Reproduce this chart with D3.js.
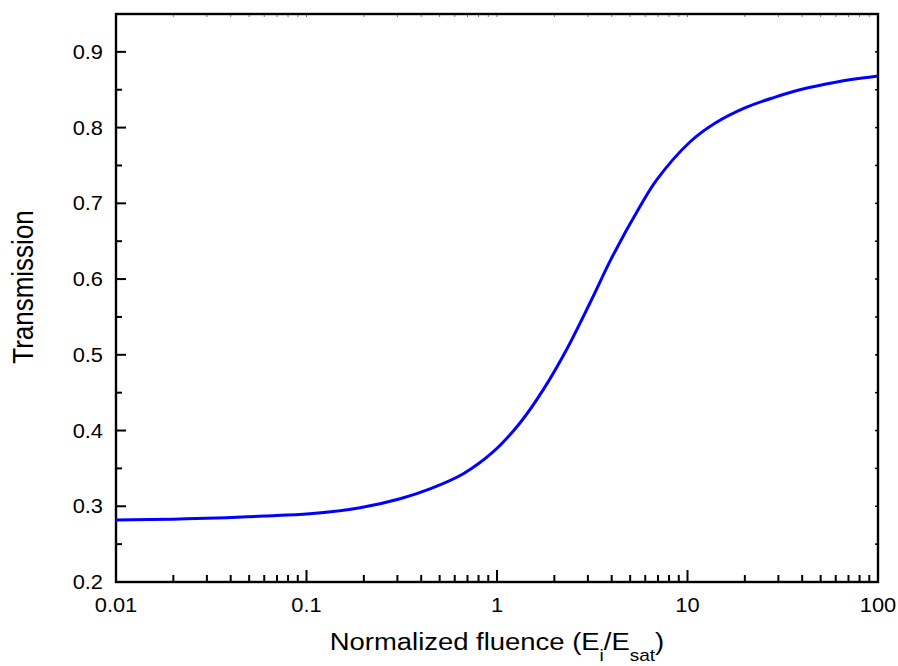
<!DOCTYPE html>
<html>
<head>
<meta charset="utf-8">
<script src="https://cdn.jsdelivr.net/npm/d3@7"></script>
<style>
  html, body { margin: 0; padding: 0; background: #fff; }
  svg { display: block; font-family: Arial, "Liberation Sans", Helvetica, sans-serif; }
</style>
</head>
<body>
<svg id="chart" width="898" height="666"></svg>
<script>
// Normalized fluence (E_i / E_sat) and the corresponding transmission
const fluence = [0.01, 0.02, 0.038, 0.06, 0.104, 0.191, 0.31, 0.445, 0.666, 0.957, 1.32, 1.75, 2.32, 3.14, 4.0, 5.64, 6.89, 10.3, 14, 20, 28.6, 38.9, 60, 100];
const transmission = [0.282, 0.283, 0.285, 0.287, 0.290, 0.298, 0.310, 0.323, 0.343, 0.372, 0.410, 0.454, 0.507, 0.573, 0.628, 0.696, 0.731, 0.781, 0.806, 0.826, 0.840, 0.850, 0.860, 0.868];

const xTickValues = [0.01, 0.1, 1, 10, 100];
const xTickLabels = ["0.01", "0.1", "1", "10", "100"];
const yTickValues = [0.2, 0.3, 0.4, 0.5, 0.6, 0.7, 0.8, 0.9];
const yTickLabels = ["0.2", "0.3", "0.4", "0.5", "0.6", "0.7", "0.8", "0.9"];

const svg = d3.select("#chart");
const L = 116, R = 878, T = 14, B = 582;
const stretch = 1.12;   // text is drawn slightly wide

const x = d3.scaleLog().domain([0.01, 100]).range([L, R]);
const y = d3.scaleLinear().domain([0.2, 0.95]).range([B, T]);

// minor ticks: 2..9 in each decade, and every 0.05 on the y axis
const xMinor = [];
for (let e = -2; e < 2; e++) for (let m = 2; m <= 9; m++) xMinor.push(m * Math.pow(10, e));
const yMinor = d3.range(0.25, 0.95, 0.1).map(v => +v.toFixed(2));

const axisG = svg.append("g").attr("stroke", "#000").attr("fill", "none");

// bottom axis ticks (inward)
axisG.selectAll(".xmaj").data(xTickValues).join("line")
  .attr("x1", d => x(d)).attr("x2", d => x(d))
  .attr("y1", B).attr("y2", B - 12).attr("stroke-width", 2);
axisG.selectAll(".xmin").data(xMinor).join("line")
  .attr("x1", d => x(d)).attr("x2", d => x(d))
  .attr("y1", B).attr("y2", B - 7).attr("stroke-width", 2);

// top axis small ticks
axisG.selectAll(".xtop").data(xMinor.concat(xTickValues)).join("line")
  .attr("x1", d => x(d)).attr("x2", d => x(d))
  .attr("y1", T).attr("y2", T + 3).attr("stroke-width", 1).attr("stroke", "#777");

// left axis ticks (inward)
axisG.selectAll(".ymaj").data(yTickValues).join("line")
  .attr("x1", L).attr("x2", L + 10)
  .attr("y1", d => y(d)).attr("y2", d => y(d)).attr("stroke-width", 2);
axisG.selectAll(".ymin").data(yMinor).join("line")
  .attr("x1", L).attr("x2", L + 6)
  .attr("y1", d => y(d)).attr("y2", d => y(d)).attr("stroke-width", 2);

// right axis small ticks
axisG.selectAll(".yright").data(yTickValues.concat(yMinor)).join("line")
  .attr("x1", R).attr("x2", R - 3)
  .attr("y1", d => y(d)).attr("y2", d => y(d)).attr("stroke-width", 1.5);

// frame
axisG.append("rect")
  .attr("x", L).attr("y", T).attr("width", R - L).attr("height", B - T)
  .attr("stroke-width", 2.4);

// tick labels
svg.append("g").selectAll("text").data(xTickValues).join("text")
  .attr("transform", d => `translate(${x(d)},611.5) scale(${stretch},1)`)
  .attr("text-anchor", "middle").attr("font-size", 19.5).attr("fill", "#000")
  .text((d, i) => xTickLabels[i]);

svg.append("g").selectAll("text").data(yTickValues).join("text")
  .attr("transform", d => `translate(103,${y(d) + 7}) scale(${stretch},1)`)
  .attr("text-anchor", "end").attr("font-size", 19.5).attr("fill", "#000")
  .text((d, i) => yTickLabels[i]);

// curve
const line = d3.line()
  .x((d, i) => x(fluence[i]))
  .y(d => y(d))
  .curve(d3.curveCatmullRom.alpha(0.5));

svg.append("path")
  .datum(transmission)
  .attr("d", line)
  .attr("fill", "none")
  .attr("stroke", "#0000ff")
  .attr("stroke-width", 3)
  .attr("stroke-linejoin", "round");

// axis titles
const xt = svg.append("text")
  .attr("transform", `translate(${(L + R) / 2},650) scale(${stretch},1)`)
  .attr("text-anchor", "middle").attr("font-size", 24.5).attr("fill", "#000");
xt.append("tspan").text("Normalized fluence (E");
xt.append("tspan").attr("font-size", 17).attr("dy", 11).text("i");
xt.append("tspan").attr("dy", -11).text("/E");
xt.append("tspan").attr("font-size", 17).attr("dy", 11).text("sat");
xt.append("tspan").attr("dy", -11).text(")");

svg.append("text")
  .attr("transform", `translate(33,287) scale(${stretch},1) rotate(-90)`)
  .attr("text-anchor", "middle").attr("font-size", 26).attr("fill", "#000")
  .text("Transmission");
</script>
</body>
</html>
